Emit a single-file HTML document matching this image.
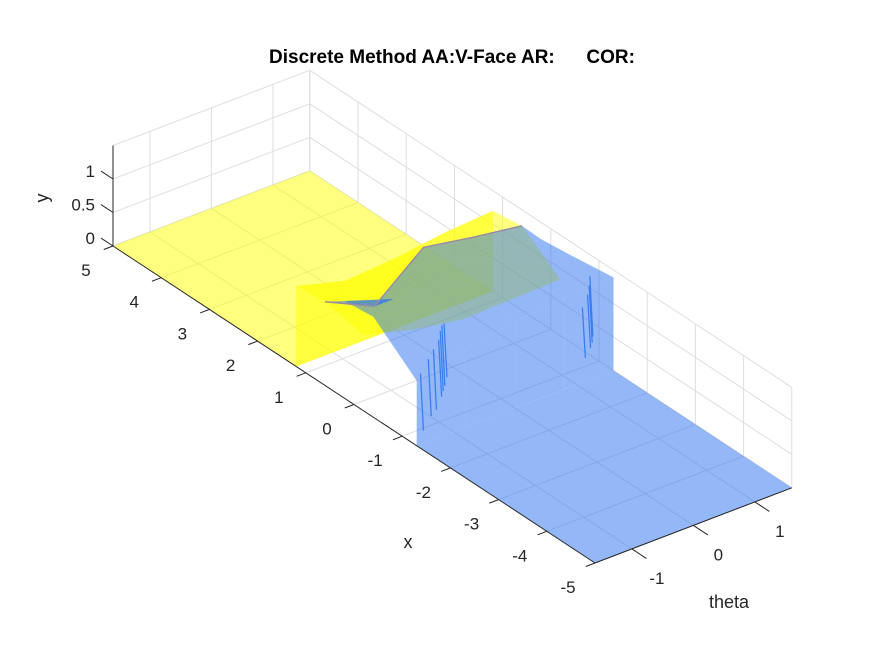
<!DOCTYPE html>
<html><head><meta charset="utf-8"><style>
html,body{margin:0;padding:0;background:#fff;}
svg{display:block;font-family:"Liberation Sans",Arial,sans-serif;}
</style></head><body>
<svg id="chart" width="875" height="656" viewBox="0 0 875 656" xmlns="http://www.w3.org/2000/svg">
<rect width="875" height="656" fill="#fff"/>
<text x="452" y="63" text-anchor="middle" font-size="19" font-weight="bold" fill="#000" style="white-space:pre">Discrete Method AA:V-Face AR:      COR:</text>
<g id="grid"></g>
<g id="surf"></g>
<g id="axes"></g>
</svg>
<script>
const xTicks = [5,4,3,2,1,0,-1,-2,-3,-4,-5];
const thetaTicks = [-1,0,1];
const yTicks = [0,0.5,1];
const thetaGrid = [-1.6,-0.8,0,0.8,1.6];
const xRows = [1.2,0.6,0.2,-0.4,-1.3];
const hRow0 = [1.2,1.0,1.05,1.15,1.2];
const hRow1 = [1.25,0.9,1.5,1.37,1.26];
const hRow2 = [1.45,1.2,1.45,1.3,1.25];
const hRow3 = [1.5,1.35,1.4,1.3,1.3];
const hRow4 = [0.97,1.15,1.3,1.35,1.39];
const rowHasYellow = [true,false,false,false];
const rowHasBlue = [false,true,true,true];
const yellowLowX = -0.2;
const yellowLowH = [1.13,0.93,0.8,0.82,0.84];
const spikeX = [-1.25,-1.22,-1.2,-1.18,-1.15,-1.12,-1.1,-1.1,-1.08,-1.05,-1.0];
const spikeT = [-1.45,-1.3,-1.2,-1.1,-1.05,-1.0,-0.95,1.3,1.4,1.45,1.5];
const spikeLo = [0.15,0.3,0.35,0.5,0.55,0.6,0.7,0.2,0.3,0.35,0.4];
const spikeHi = [1.0,1.15,1.25,1.35,1.45,1.5,1.5,0.95,1.1,1.2,1.3];

const X_MAX=5,X_MIN=-5,T_MIN=-1.6,T_MAX=1.6,Y_MAX=1.5;
const NS="http://www.w3.org/2000/svg";
function P(x,t,y){const a=X_MAX-x,b=t-T_MIN;return [113+a*48.2+b*61.5, 246+a*31.7-b*23.5-y*67];}
function el(tag,attrs,parent){const e=document.createElementNS(NS,tag);for(const k in attrs)e.setAttribute(k,attrs[k]);parent.appendChild(e);return e;}
function pts(list){return list.map(p=>p[0].toFixed(1)+","+p[1].toFixed(1)).join(" ");}
const grid=document.getElementById('grid'),surf=document.getElementById('surf'),axes=document.getElementById('axes');
const gc="#dedede";
function gline(p,q,name){const l=el('line',{x1:p[0],y1:p[1],x2:q[0],y2:q[1],stroke:gc,'stroke-width':1},grid);

}
thetaTicks.forEach(t=>gline(P(X_MAX,t,0),P(X_MAX,t,Y_MAX),'grid-theta-wall'));
gline(P(X_MAX,T_MAX,0),P(X_MAX,T_MAX,Y_MAX),'grid-corner');
yTicks.concat([Y_MAX]).forEach(y=>{gline(P(X_MAX,T_MIN,y),P(X_MAX,T_MAX,y),'grid-y-left');gline(P(X_MAX,T_MAX,y),P(X_MIN,T_MAX,y),'grid-y-right');});
xTicks.forEach(x=>gline(P(x,T_MAX,0),P(x,T_MAX,Y_MAX),'grid-x-wall'));
xTicks.forEach(x=>gline(P(x,T_MIN,0),P(x,T_MAX,0),'grid-x-floor'));
thetaTicks.forEach(t=>gline(P(X_MAX,t,0),P(X_MIN,t,0),'grid-theta-floor'));

const YEL="rgba(255,255,0,0.5)",BLU="rgba(41,113,239,0.5)";
const H=[hRow0,hRow1,hRow2,hRow3,hRow4];
const polys=[];
polys.push({c:[P(X_MAX,T_MIN,0),P(X_MAX,T_MAX,0),P(xRows[0],T_MAX,0),P(xRows[0],T_MIN,0)],f:YEL,d:-1e9,n:'yellow-floor'});
const xl=xRows[xRows.length-1];
polys.push({c:[P(xl,T_MIN,0),P(xl,T_MAX,0),P(X_MIN,T_MAX,0),P(X_MIN,T_MIN,0)],f:BLU,d:-1e9+1,n:'blue-floor'});
function depth(x,t){return P(x,t,0)[1];}
for(let j=0;j<thetaGrid.length-1;j++){
  const t0=thetaGrid[j],t1=thetaGrid[j+1];
  polys.push({c:[P(xRows[0],t0,0),P(xRows[0],t1,0),P(xRows[0],t1,H[0][j+1]),P(xRows[0],t0,H[0][j])],f:YEL,d:depth(xRows[0],(t0+t1)/2),n:'yellow-wall'});
  const L=xRows.length-1;
  polys.push({c:[P(xRows[L],t0,0),P(xRows[L],t1,0),P(xRows[L],t1,H[L][j+1]),P(xRows[L],t0,H[L][j])],f:BLU,d:depth(xRows[L],(t0+t1)/2)+0.5,n:'blue-wall'});
  for(let i=0;i<xRows.length-1;i++){
    const c=[P(xRows[i],t0,H[i][j]),P(xRows[i],t1,H[i][j+1]),P(xRows[i+1],t1,H[i+1][j+1]),P(xRows[i+1],t0,H[i+1][j])];
    const d=depth((xRows[i]+xRows[i+1])/2,(t0+t1)/2);
    if(rowHasBlue[i]) polys.push({c:c,f:BLU,d:d-0.2,n:'blue-surface-patch'});
    if(rowHasYellow[i]) polys.push({c:c,f:YEL,d:d,n:'yellow-surface-patch'});
  }
  polys.push({c:[P(xRows[1],t0,hRow1[j]),P(xRows[1],t1,hRow1[j+1]),P(yellowLowX,t1,yellowLowH[j+1]),P(yellowLowX,t0,yellowLowH[j])],f:YEL,d:-5e8,n:'yellow-sheet-patch'});
}
polys.sort((a,b)=>a.d-b.d);
polys.forEach(p=>{const e=el('polygon',{points:pts(p.c),fill:p.f},surf);

});
spikeX.forEach((x,i)=>{const p=P(x,spikeT[i],spikeLo[i]),q=P(x,spikeT[i],spikeHi[i]);
const l=el('line',{x1:p[0],y1:p[1],x2:q[0]-3,y2:q[1],stroke:'#3a7ff0','stroke-width':1.3},surf);

});
const ridge=thetaGrid.map((t,j)=>P(xRows[1],t,hRow1[j]));
const r=el('polyline',{points:pts(ridge),fill:'none',stroke:'#9a8aa8','stroke-width':1.5},surf);



const ac="#262626";
function aline(p,q,name){const l=el('line',{x1:p[0],y1:p[1],x2:q[0],y2:q[1],stroke:ac,'stroke-width':1},axes);

}
function txt(x,y,s,anchor,name,extra){const e=el('text',Object.assign({x:x,y:y,'font-size':17,fill:ac,'text-anchor':anchor},extra||{}),axes);e.textContent=s;

return e;}
aline(P(X_MAX,T_MIN,0),P(X_MIN,T_MIN,0),'x-axis-line');
aline(P(X_MIN,T_MIN,0),P(X_MIN,T_MAX,0),'theta-axis-line');
aline(P(X_MAX,T_MIN,0),P(X_MAX,T_MIN,Y_MAX),'y-axis-line');
xTicks.forEach(x=>{const p=P(x,T_MIN,0),q=P(x,T_MIN-0.15,0);aline(p,q,'x-tick');txt(p[0]-27,p[1]+30,String(x),'middle','x-tick-label');});
thetaTicks.forEach(t=>{const p=P(X_MIN,t,0),q=P(X_MIN-0.3,t,0);aline(p,q,'theta-tick');txt(p[0]+25,p[1]+35,String(t),'middle','theta-tick-label');});
yTicks.forEach(y=>{const p=P(X_MAX,T_MIN,y),q=P(X_MAX+0.25,T_MIN,y);aline(p,q,'y-tick');txt(p[0]-18,p[1]-2,String(y),'end','y-tick-label');});
txt(408,548,'x','middle','x-axis-title',{'font-size':18});
txt(729,608,'theta','middle','theta-axis-title',{'font-size':18});
txt(48,198,'y','middle','y-axis-title',{'font-size':18,transform:'rotate(-90 48 198)'});
</script>
</body></html>
